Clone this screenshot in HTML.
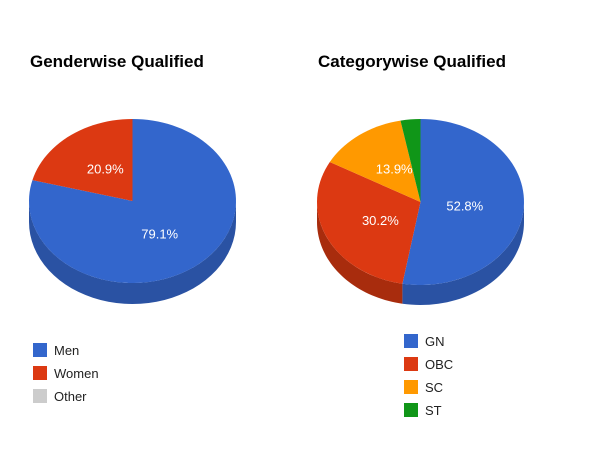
<!DOCTYPE html>
<html><head><meta charset="utf-8"><style>
html,body{margin:0;padding:0;background:#fff;}
svg{display:block;font-family:"Liberation Sans",Arial,sans-serif;}
</style></head><body>
<svg id="chart" width="600" height="450" viewBox="0 0 600 450">
<text x="30" y="67" font-size="17" font-weight="bold" fill="#000">Genderwise Qualified</text>
<text x="318" y="67" font-size="17" font-weight="bold" fill="#000">Categorywise Qualified</text>
</svg>
<script>
const genderLabels = ["Men", "Women", "Other"];
const genderValues = [79.1, 20.9, 0];
const categoryLabels = ["GN", "OBC", "SC", "ST"];
const categoryValues = [52.8, 30.2, 13.9, 3.1];

const colors = ["#3366cc", "#dc3912", "#ff9900", "#109618"];
const sideColors = ["#2a52a3", "#a82c0d", "#c47600", "#0c7012"];
const otherColor = "#cccccc";
const NS = "http://www.w3.org/2000/svg";
const svg = document.getElementById("chart");

function mk(tag, attrs) {
  const e = document.createElementNS(NS, tag);
  for (const k in attrs) e.setAttribute(k, attrs[k]);
  return e;
}

function drawPie(prefix, labels, values, cx, cy, rx, ry, depth, legendX, legendY, legendStep, legendColors) {
  const total = values.reduce((a, b) => a + b, 0);
  const pt = (a, dy) => [cx + rx * Math.sin(a), cy - ry * Math.cos(a) + (dy || 0)];
  const g = mk("g", {});
  
  
  svg.appendChild(g);
  let slices = [];
  let acc = 0;
  values.forEach((v, i) => {
    const a0 = acc / total * 2 * Math.PI;
    acc += v;
    const a1 = acc / total * 2 * Math.PI;
    slices.push([a0, a1]);
  });
  // side walls (visible front half: PI/2 .. 3PI/2)
  slices.forEach(([a0, a1], i) => {
    if (a1 - a0 <= 0) return;
    const s = Math.max(a0, Math.PI / 2), e = Math.min(a1, 3 * Math.PI / 2);
    if (e <= s) return;
    const N = 40;
    let d = "";
    for (let k = 0; k <= N; k++) {
      const p = pt(s + (e - s) * k / N);
      d += (k ? "L" : "M") + p[0].toFixed(2) + " " + p[1].toFixed(2);
    }
    for (let k = N; k >= 0; k--) {
      const p = pt(s + (e - s) * k / N, depth);
      d += "L" + p[0].toFixed(2) + " " + p[1].toFixed(2);
    }
    d += "Z";
    const side = mk("path", { d: d, fill: sideColors[i] });
    
    
    g.appendChild(side);
  });
  // top faces
  slices.forEach(([a0, a1], i) => {
    if (a1 - a0 <= 0) return;
    const N = Math.max(2, Math.ceil((a1 - a0) / 0.05));
    let d = "M" + cx + " " + cy;
    for (let k = 0; k <= N; k++) {
      const p = pt(a0 + (a1 - a0) * k / N);
      d += "L" + p[0].toFixed(2) + " " + p[1].toFixed(2);
    }
    d += "Z";
    const top = mk("path", { d: d, fill: colors[i] });
    
    
    g.appendChild(top);
  });
  // labels
  slices.forEach(([a0, a1], i) => {
    const pct = values[i] / total * 100;
    if (pct < 5) return;
    const m = (a0 + a1) / 2;
    const x = cx + rx * 0.43 * Math.sin(m);
    const y = cy - ry * 0.5 * Math.cos(m) + 5;
    const t = mk("text", { x: x.toFixed(1), y: y.toFixed(1), "font-size": "13", fill: "#fff", "text-anchor": "middle" });
    t.textContent = pct.toFixed(1) + "%";
    
    
    g.appendChild(t);
  });
  // legend
  labels.forEach((lab, i) => {
    const y = legendY + i * legendStep;
    const r = mk("rect", { x: legendX, y: y - 7, width: 14, height: 14, fill: legendColors[i] });
    
    
    svg.appendChild(r);
    const t = mk("text", { x: legendX + 21, y: y + 5, "font-size": "13", fill: "#222" });
    t.textContent = lab;
    
    
    svg.appendChild(t);
  });
}

drawPie("gender", genderLabels, genderValues, 132.5, 201, 103.5, 82, 21, 33, 350, 23, [colors[0], colors[1], otherColor]);
drawPie("category", categoryLabels, categoryValues, 420.5, 202, 103.5, 83, 20, 404, 341, 23, colors);
</script>
</body></html>
